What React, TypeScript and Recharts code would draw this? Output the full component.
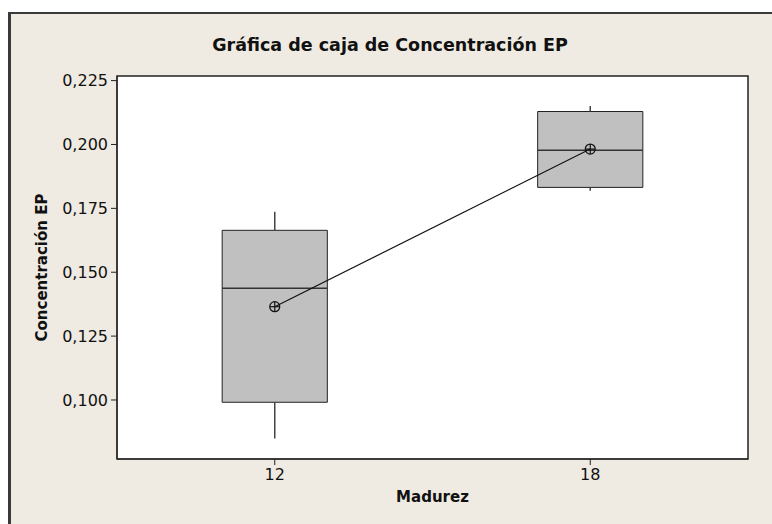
import {
  ComposedChart,
  XAxis,
  YAxis,
  CartesianGrid,
  ReferenceArea,
  ReferenceLine,
  Line
} from 'recharts';

// Madurez groups and box plot summary values
const madurez = [12, 18];
const minimo = [0.0849, 0.1819];
const q1 = [0.0991, 0.1832];
const mediana = [0.1437, 0.1977];
const q3 = [0.1664, 0.2129];
const maximo = [0.1737, 0.2151];
const media = [0.1365, 0.1982];

const xTicks = [12, 18];
const yTicks = [0.1, 0.125, 0.15, 0.175, 0.2, 0.225];

const X_DOMAIN: [number, number] = [9, 21];
const Y_DOMAIN: [number, number] = [0.0769, 0.2268];
const BOX_HALF = 1;

const FONT = "Tahoma, 'DejaVu Sans', Verdana, sans-serif";
const BG = '#EFEBE2';

const meanData = madurez.map((m, i) => ({ x: m, media: media[i] }));

const fmt = (v: number) => v.toFixed(3).replace('.', ',');

const MeanDot = (props: any) => {
  const { cx, cy, index } = props;
  if (cx == null || cy == null) return <g key={index} />;
  return (
    <g key={index}>
      <circle cx={cx} cy={cy} r={5} fill="none" stroke="#111" strokeWidth={1.2} />
      <line x1={cx - 5} y1={cy} x2={cx + 5} y2={cy} stroke="#111" strokeWidth={1.2} />
      <line x1={cx} y1={cy - 5} x2={cx} y2={cy + 5} stroke="#111" strokeWidth={1.2} />
    </g>
  );
};

const App = () => {
  return (
    <div style={{ position: 'absolute', left: 0, top: 0, width: 772, height: 524, background: '#fff', fontFamily: FONT }}>
      <div
        style={{
          position: 'absolute',
          left: 8,
          top: 12,
          width: 764,
          height: 512,
          boxSizing: 'border-box',
          borderLeft: '3px solid #3a3a3a',
          borderTop: '2px solid #3a3a3a',
          background: BG
        }}
      />
      <div
        style={{
          position: 'absolute',
          left: 8,
          top: 35,
          width: 764,
          textAlign: 'center',
          fontSize: 17.5,
          fontWeight: 'bold',
          color: '#111'
        }}
      >
        Gráfica de caja de Concentración EP
      </div>
      <div style={{ position: 'absolute', left: 0, top: 0 }}>
        <ComposedChart
          width={772}
          height={524}
          margin={{ top: 76, right: 24, bottom: 10, left: 20 }}
        >
          <CartesianGrid fill="#ffffff" horizontal={false} vertical={false} />
          <XAxis
            type="number"
            dataKey="x"
            domain={X_DOMAIN}
            ticks={xTicks}
            allowDataOverflow
            height={55}
            tickSize={6}
            tickMargin={4}
            stroke="#222"
            tick={{ fill: '#111', fontSize: 16, fontFamily: FONT }}
            label={{
              value: 'Madurez',
              position: 'insideBottom',
              offset: 12,
              fill: '#111',
              fontSize: 15,
              fontWeight: 'bold',
              fontFamily: FONT
            }}
          />
          <YAxis
            type="number"
            domain={Y_DOMAIN}
            ticks={yTicks}
            allowDataOverflow
            width={97}
            tickSize={6}
            tickMargin={3}
            tickFormatter={fmt}
            stroke="#222"
            tick={{ fill: '#111', fontSize: 16, fontFamily: FONT }}
            label={{
              value: 'Concentración EP',
              angle: -90,
              position: 'insideLeft',
              offset: 22,
              fill: '#111',
              fontSize: 15,
              fontWeight: 'bold',
              fontFamily: FONT,
              style: { textAnchor: 'middle' }
            }}
          />
          <ReferenceArea
            x1={X_DOMAIN[0]}
            x2={X_DOMAIN[1]}
            y1={Y_DOMAIN[0]}
            y2={Y_DOMAIN[1]}
            fill="none"
            stroke="#222"
            strokeWidth={1.5}
          />
          {madurez.map((m, i) => (
            <ReferenceLine
              key={`wl-${i}`}
              segment={[{ x: m, y: minimo[i] }, { x: m, y: q1[i] }]}
              stroke="#444"
              strokeWidth={1.5}
            />
          ))}
          {madurez.map((m, i) => (
            <ReferenceLine
              key={`wh-${i}`}
              segment={[{ x: m, y: q3[i] }, { x: m, y: maximo[i] }]}
              stroke="#444"
              strokeWidth={1.5}
            />
          ))}
          {madurez.map((m, i) => (
            <ReferenceArea
              key={`box-${i}`}
              x1={m - BOX_HALF}
              x2={m + BOX_HALF}
              y1={q1[i]}
              y2={q3[i]}
              fill="#C0C0C0"
              fillOpacity={1}
              stroke="#222"
              strokeWidth={1}
            />
          ))}
          {madurez.map((m, i) => (
            <ReferenceLine
              key={`med-${i}`}
              segment={[{ x: m - BOX_HALF, y: mediana[i] }, { x: m + BOX_HALF, y: mediana[i] }]}
              stroke="#333"
              strokeWidth={1.5}
            />
          ))}
          <Line
            data={meanData}
            dataKey="media"
            type="linear"
            stroke="#111"
            strokeWidth={1.2}
            dot={<MeanDot />}
            activeDot={false}
            isAnimationActive={false}
          />
        </ComposedChart>
      </div>
    </div>
  );
};

export default App;
